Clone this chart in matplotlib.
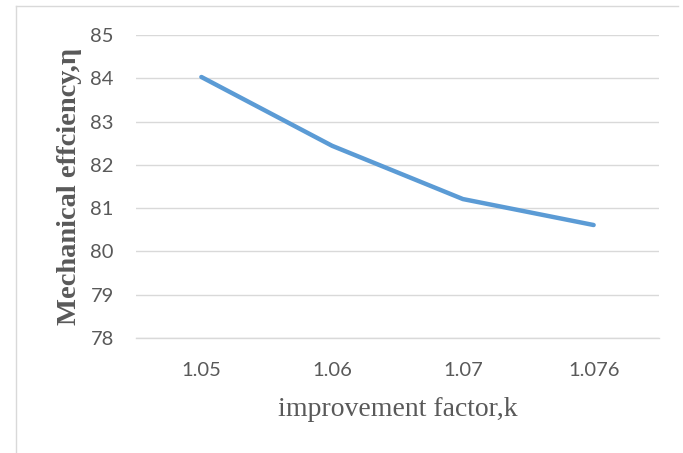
import matplotlib.pyplot as plt
from matplotlib.lines import Line2D

categories = ["1.05", "1.06", "1.07", "1.076"]
efficiency = [84.03, 82.44, 81.21, 80.61]
y_ticks = [78, 79, 80, 81, 82, 83, 84, 85]

fig = plt.figure(figsize=(6.83, 4.53), dpi=100)
ax = fig.add_axes([136 / 683, 1 - 338 / 453, 523 / 683, 303 / 453])

x = range(len(categories))
ax.plot(x, efficiency, color="#5B9BD5", linewidth=3.2, solid_capstyle="round")

ax.set_xlim(-0.5, len(categories) - 0.5)
ax.set_ylim(78, 85)
ax.set_yticks(y_ticks)
ax.set_xticks(list(x))
ax.set_xticklabels(categories)
ax.grid(axis="y", color="#D9D9D9", linewidth=1)
ax.set_axisbelow(True)
for s in ["top", "left", "right"]:
    ax.spines[s].set_visible(False)
ax.spines["bottom"].set_color("#D9D9D9")
ax.spines["bottom"].set_linewidth(1)
ax.tick_params(length=0, labelsize=14.5, labelcolor="#595959")
for lab in ax.get_xticklabels() + ax.get_yticklabels():
    lab.set_family("Lato")
ax.tick_params(axis="y", pad=16)
ax.tick_params(axis="x", pad=17)

ax.set_xlabel("improvement factor,k", family="Liberation Serif", fontsize=20,
              color="#595959", labelpad=13)
ax.set_ylabel("Mechanical effciency,η", family=["Liberation Serif", "DejaVu Serif"],
              fontsize=20.5, fontweight="bold", color="#595959", labelpad=6)

# chart border (partly outside the image)
fig.add_artist(Line2D([16 / 683, 16 / 683], [0, 1 - 6 / 453], color="#D9D9D9", linewidth=1))
fig.add_artist(Line2D([16 / 683, 678 / 683], [1 - 6 / 453, 1 - 6 / 453], color="#D9D9D9", linewidth=1))

plt.savefig("out.png")
